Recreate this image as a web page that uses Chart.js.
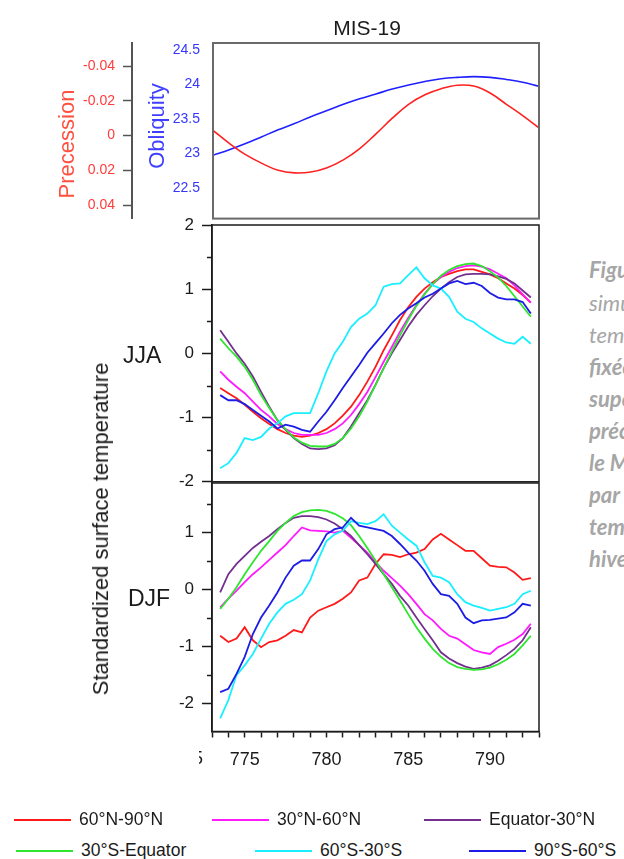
<!DOCTYPE html>
<html>
<head>
<meta charset="utf-8">
<script src="https://cdn.jsdelivr.net/npm/chart.js@4.4.1/dist/chart.umd.min.js"></script>
<style>
body{margin:0;background:#fff;width:624px;height:859px;overflow:hidden;position:relative;font-family:"Liberation Sans",Arial,sans-serif;color:#1b1b1b;}
canvas{position:absolute;left:0;}
.t{position:absolute;white-space:nowrap;line-height:1;}
.c{transform:translate(-50%,-50%);}
.r{transform:translate(-50%,-50%) rotate(-90deg);}
.cap{position:absolute;left:589px;font-family:Lato,"Open Sans",sans-serif;font-style:italic;font-size:22px;color:#a6a6a6;white-space:nowrap;line-height:1;}
</style>
</head>
<body>
<canvas id="orbit" width="560" height="240" style="top:0"></canvas>
<canvas id="jja" width="560" height="300" style="top:200px"></canvas>
<canvas id="djf" width="560" height="330" style="top:460px"></canvas>

<div class="t c" style="left:367px;top:27px;font-size:21px;">MIS-19</div>
<div class="t r" style="left:67px;top:144px;font-size:22px;color:#ff4f3f;">Precession</div>
<div class="t r" style="left:157px;top:126px;font-size:22px;color:#3f3fff;">Obliquity</div>
<div class="t r" style="left:101px;top:529px;font-size:22px;">Standardized surface temperature</div>
<div class="t" style="left:123px;top:355px;font-size:23px;transform:translateY(-50%);">JJA</div>
<div class="t" style="left:128px;top:598px;font-size:23px;transform:translateY(-50%);">DJF</div>
<div style="position:absolute;left:199px;top:748px;width:4px;height:20px;overflow:hidden;"><span style="position:absolute;right:0;top:0;font-size:18px;line-height:20px;">5</span></div>
<div id="legend"></div>
<div id="caption"></div>

<script>
// x axis (ka)
const xMin = 773;
const xMax = 793;
const xTickVals = [773, 774, 775, 776, 777, 778, 779, 780, 781, 782, 783, 784, 785, 786, 787, 788, 789, 790, 791, 792, 793];
const xLabelVals = [775, 780, 785, 790];

// orbital parameters
const orbitKyr = [773, 774, 775, 776, 777, 778, 779, 780, 781, 782, 783, 784, 785, 786, 787, 788, 789, 790, 791, 792, 793];
const precession = [-0.003, 0.0045, 0.011, 0.016, 0.020, 0.0215, 0.021, 0.0185, 0.014, 0.0075, -0.001, -0.010, -0.018, -0.0235, -0.027, -0.029, -0.0285, -0.0245, -0.018, -0.0115, -0.0045];
const obliquity = [22.97, 23.05, 23.14, 23.24, 23.34, 23.43, 23.53, 23.62, 23.71, 23.79, 23.86, 23.93, 23.99, 24.04, 24.08, 24.10, 24.11, 24.10, 24.07, 24.03, 23.97];
const precTicks = [-0.04, -0.02, 0, 0.02, 0.04];
const oblTicks = [22.5, 23, 23.5, 24, 24.5];

// standardized temperatures
const kyr = [773.5, 774, 774.5, 775, 775.5, 776, 776.5, 777, 777.5, 778, 778.5, 779, 779.5, 780, 780.5, 781, 781.5, 782, 782.5, 783, 783.5, 784, 784.5, 785, 785.5, 786, 786.5, 787, 787.5, 788, 788.5, 789, 789.5, 790, 790.5, 791, 791.5, 792, 792.5];

const seriesNames = ['60°N-90°N', '30°N-60°N', 'Equator-30°N', '30°S-Equator', '60°S-30°S', '90°S-60°S'];
const seriesColors = ['#ff1a1a', '#ff1aff', '#74308f', '#2ee62e', '#1aefff', '#1c1ce6'];

const jja60N90N = [-0.54, -0.62, -0.70, -0.80, -0.91, -1.01, -1.10, -1.18, -1.24, -1.28, -1.30, -1.28, -1.24, -1.18, -1.09, -0.97, -0.83, -0.65, -0.44, -0.21, 0.05, 0.28, 0.52, 0.72, 0.88, 1.01, 1.11, 1.19, 1.24, 1.28, 1.31, 1.31, 1.27, 1.23, 1.17, 1.09, 1.01, 0.91, 0.79];
const jja30N60N = [-0.28, -0.41, -0.52, -0.62, -0.75, -0.88, -0.98, -1.10, -1.18, -1.24, -1.27, -1.27, -1.27, -1.24, -1.18, -1.09, -0.96, -0.79, -0.60, -0.37, -0.13, 0.10, 0.34, 0.55, 0.75, 0.93, 1.08, 1.19, 1.27, 1.33, 1.36, 1.37, 1.35, 1.31, 1.24, 1.17, 1.06, 0.92, 0.79];
const jjaEq30N = [0.36, 0.18, 0.00, -0.16, -0.36, -0.60, -0.83, -1.04, -1.19, -1.32, -1.41, -1.48, -1.49, -1.48, -1.43, -1.32, -1.14, -0.93, -0.73, -0.49, -0.23, 0.00, 0.21, 0.42, 0.60, 0.75, 0.89, 1.01, 1.11, 1.19, 1.23, 1.24, 1.24, 1.23, 1.20, 1.16, 1.09, 0.98, 0.87];
const jja30SEq = [0.23, 0.08, -0.05, -0.21, -0.41, -0.65, -0.85, -1.04, -1.18, -1.31, -1.39, -1.44, -1.45, -1.45, -1.41, -1.32, -1.17, -0.98, -0.75, -0.49, -0.23, 0.03, 0.28, 0.52, 0.74, 0.92, 1.08, 1.21, 1.30, 1.36, 1.39, 1.40, 1.36, 1.28, 1.18, 1.05, 0.89, 0.73, 0.57];
const jja60S30S = [-1.79, -1.71, -1.55, -1.32, -1.35, -1.30, -1.17, -1.09, -0.98, -0.93, -0.93, -0.93, -0.62, -0.28, 0.00, 0.18, 0.41, 0.54, 0.62, 0.75, 1.04, 1.08, 1.09, 1.22, 1.34, 1.17, 1.06, 1.01, 0.88, 0.65, 0.54, 0.49, 0.39, 0.31, 0.23, 0.17, 0.15, 0.26, 0.15];
const jja90S60S = [-0.65, -0.73, -0.73, -0.79, -0.88, -0.97, -1.06, -1.17, -1.11, -1.14, -1.19, -1.22, -1.06, -0.91, -0.73, -0.54, -0.36, -0.18, 0.01, 0.16, 0.31, 0.47, 0.60, 0.70, 0.78, 0.87, 0.93, 1.01, 1.09, 1.13, 1.08, 1.10, 1.05, 0.94, 0.87, 0.84, 0.84, 0.80, 0.62];

const djf60N90N = [-0.82, -0.93, -0.87, -0.67, -0.90, -1.02, -0.93, -0.90, -0.82, -0.72, -0.76, -0.50, -0.38, -0.32, -0.26, -0.17, -0.06, 0.15, 0.20, 0.44, 0.61, 0.60, 0.56, 0.61, 0.64, 0.70, 0.87, 0.97, 0.87, 0.77, 0.67, 0.67, 0.54, 0.41, 0.39, 0.38, 0.29, 0.16, 0.19];
const djf30N60N = [-0.32, -0.17, -0.03, 0.12, 0.26, 0.38, 0.51, 0.64, 0.77, 0.93, 1.08, 1.03, 1.02, 1.01, 0.99, 1.02, 0.90, 0.77, 0.64, 0.47, 0.32, 0.19, 0.06, -0.09, -0.26, -0.44, -0.55, -0.70, -0.82, -0.87, -0.97, -1.07, -1.11, -1.14, -1.02, -0.96, -0.89, -0.79, -0.61];
const djfEq30N = [-0.06, 0.26, 0.44, 0.58, 0.72, 0.83, 0.93, 1.05, 1.16, 1.25, 1.28, 1.28, 1.26, 1.22, 1.15, 1.05, 0.93, 0.77, 0.61, 0.44, 0.26, 0.09, -0.12, -0.29, -0.50, -0.70, -0.90, -1.11, -1.22, -1.30, -1.36, -1.40, -1.38, -1.34, -1.26, -1.16, -1.05, -0.90, -0.67];
const djf30SEq = [-0.35, -0.17, 0.03, 0.26, 0.47, 0.67, 0.84, 1.02, 1.16, 1.28, 1.35, 1.38, 1.39, 1.37, 1.32, 1.24, 1.12, 0.93, 0.72, 0.50, 0.26, 0.03, -0.20, -0.44, -0.67, -0.87, -1.05, -1.19, -1.30, -1.37, -1.40, -1.42, -1.41, -1.38, -1.32, -1.24, -1.14, -0.99, -0.82];
const djf60S30S = [-2.27, -1.95, -1.51, -1.34, -1.14, -0.87, -0.61, -0.41, -0.26, -0.19, -0.09, 0.15, 0.52, 0.84, 0.96, 1.02, 1.19, 1.16, 1.14, 1.19, 1.31, 1.11, 0.99, 0.87, 0.76, 0.47, 0.23, 0.20, 0.12, -0.09, -0.23, -0.29, -0.33, -0.38, -0.35, -0.32, -0.26, -0.09, -0.03];
const djf90S60S = [-1.81, -1.75, -1.49, -1.19, -0.79, -0.50, -0.29, -0.06, 0.20, 0.41, 0.50, 0.50, 0.70, 0.96, 1.05, 1.08, 1.25, 1.11, 1.08, 1.05, 1.02, 0.93, 0.79, 0.64, 0.50, 0.32, 0.09, -0.09, -0.12, -0.26, -0.50, -0.60, -0.55, -0.54, -0.52, -0.50, -0.41, -0.26, -0.29];

const jjaSeries = [jja60N90N, jja30N60N, jjaEq30N, jja30SEq, jja60S30S, jja90S60S];
const djfSeries = [djf60N90N, djf30N60N, djfEq30N, djf30SEq, djf60S30S, djf90S60S];
const tempTicks = [-2, -1, 0, 1, 2];
const tempMinor = [-1.5, -0.5, 0.5, 1.5];

// layout of legend entries and caption lines (screen positions)
const legendPos = [[14, 820], [212, 820], [424, 820], [16, 851], [255, 851], [469, 851]];
const captionLines = [
    ['Figure 3 :', true], ['simulations', false], ['température', false], ['fixées', true], ['superficielles', true],
    ['précession', true], ['le MIS-19', true], ['par', true], ['température', true], ['hiver', true]
];
const captionTop = [270, 303, 335, 367, 399, 431, 463, 495, 527, 559];

const FONT = 'Liberation Sans';
const INK = '#1b1b1b';

const framePlugin = {
    id: 'frame',
    afterDatasetsDraw(chart, args, opts) {
        const a = chart.chartArea;
        const ctx = chart.ctx;
        ctx.save();
        ctx.strokeStyle = opts.color;
        ctx.lineWidth = opts.width;
        ctx.strokeRect(a.left, a.top, a.right - a.left, a.bottom - a.top);
        ctx.restore();
    }
};

const minorTicksPlugin = {
    id: 'minorTicks',
    afterDraw(chart, args, opts) {
        if (!opts.values) return;
        const s = chart.scales.y;
        const ctx = chart.ctx;
        ctx.save();
        ctx.strokeStyle = INK;
        ctx.lineWidth = 1.5;
        opts.values.forEach(function(v) {
            const py = Math.round(s.getPixelForValue(v)) + 0.5;
            ctx.beginPath();
            ctx.moveTo(s.right - opts.length, py);
            ctx.lineTo(s.right, py);
            ctx.stroke();
        });
        ctx.restore();
    }
};

function pairs(xs, ys) {
    return ys.map(function(y, i) { return {x: xs[i], y: y}; });
}

function tempDatasets(list) {
    return list.map(function(values, i) {
        return {
            label: seriesNames[i],
            data: pairs(kyr, values),
            borderColor: seriesColors[i],
            borderWidth: 1.8,
            pointRadius: 0,
            tension: 0,
            order: 6 - i
        };
    });
}

function hiddenX() {
    return {type: 'linear', min: xMin, max: xMax, display: false};
}

function tempY(min, max, ticks) {
    return {
        type: 'linear', position: 'left', min: min, max: max,
        afterFit: function(s) { s.width = 212; },
        afterBuildTicks: function(s) { s.ticks = ticks.map(function(v) { return {value: v}; }); },
        ticks: {font: {family: FONT, size: 17}, color: INK, padding: 8, callback: function(v) { return String(v); }},
        grid: {drawOnChartArea: false, tickLength: 10, tickColor: INK, tickWidth: 1.5},
        border: {display: true, color: INK, width: 1.5}
    };
}

const common = {
    responsive: false,
    animation: false,
    events: [],
    plugins: {legend: {display: false}, tooltip: {enabled: false}}
};

new Chart(document.getElementById('orbit'), {
    type: 'line',
    data: {
        datasets: [
            {label: 'Precession', data: pairs(orbitKyr, precession), yAxisID: 'prec', borderColor: '#ff2020', borderWidth: 1.6, pointRadius: 0, tension: 0.4},
            {label: 'Obliquity', data: pairs(orbitKyr, obliquity), yAxisID: 'obl', borderColor: '#2020ff', borderWidth: 1.6, pointRadius: 0, tension: 0.4}
        ]
    },
    options: Object.assign({}, common, {
        layout: {padding: {top: 43, bottom: 15, right: 21, left: 0}},
        plugins: Object.assign({}, common.plugins, {frame: {color: '#6a6a6a', width: 2}}),
        scales: {
            x: hiddenX(),
            prec: {
                type: 'linear', position: 'left', weight: 1, reverse: true, min: -0.0533, max: 0.0478,
                afterFit: function(s) { s.width = 132; },
                afterBuildTicks: function(s) { s.ticks = precTicks.map(function(v) { return {value: v}; }); },
                ticks: {font: {family: FONT, size: 14}, color: '#ff3b3b', padding: 8, callback: function(v) { return String(v); }},
                grid: {drawOnChartArea: false, tickLength: 9, tickColor: '#555', tickWidth: 1.5},
                border: {display: true, color: '#555', width: 2}
            },
            obl: {
                type: 'linear', position: 'left', weight: 0, min: 22.053, max: 24.598,
                afterFit: function(s) { s.width = 81; },
                afterBuildTicks: function(s) { s.ticks = oblTicks.map(function(v) { return {value: v}; }); },
                ticks: {font: {family: FONT, size: 14}, color: '#3535ff', padding: 13, callback: function(v) { return String(v); }},
                grid: {display: false, drawTicks: false},
                border: {display: false}
            }
        }
    }),
    plugins: [framePlugin]
});

new Chart(document.getElementById('jja'), {
    type: 'line',
    data: {datasets: tempDatasets(jjaSeries)},
    options: Object.assign({}, common, {
        layout: {padding: {top: 25, bottom: 17.5, right: 21, left: 0}},
        plugins: Object.assign({}, common.plugins, {frame: {color: INK, width: 1.5}, minorTicks: {values: tempMinor, length: 5}}),
        scales: {x: hiddenX(), y: tempY(-2, 2, tempTicks)}
    }),
    plugins: [framePlugin, minorTicksPlugin]
});

new Chart(document.getElementById('djf'), {
    type: 'line',
    data: {datasets: tempDatasets(djfSeries)},
    options: Object.assign({}, common, {
        layout: {padding: {top: 23, bottom: 18.5, right: 21, left: 0}},
        plugins: Object.assign({}, common.plugins, {frame: {color: INK, width: 1.5}, minorTicks: {values: tempMinor, length: 5}}),
        scales: {
            x: {
                type: 'linear', min: xMin, max: xMax,
                afterFit: function(s) { s.height = 40; },
                afterBuildTicks: function(s) { s.ticks = xTickVals.map(function(v) { return {value: v}; }); },
                ticks: {font: {family: FONT, size: 18}, color: INK, padding: 12, autoSkip: false, maxRotation: 0,
                    callback: function(v) { return xLabelVals.indexOf(v) >= 0 ? String(v) : ''; }},
                grid: {drawOnChartArea: false, tickLength: 6, tickColor: INK, tickWidth: 1.5},
                border: {display: true, color: INK, width: 1.5}
            },
            y: tempY(-2.5, 1.86, [-2, -1, 0, 1])
        }
    }),
    plugins: [framePlugin, minorTicksPlugin]
});

// legend built from the series names and colours
let legend = document.getElementById('legend');
seriesNames.forEach(function(name, i) {
    let p = legendPos[i];
    let line = document.createElement('div');
    line.style.cssText = 'position:absolute;left:' + p[0] + 'px;top:' + (p[1] - 1) + 'px;width:57px;height:2px;background:' + seriesColors[i] + ';';
    legend.append(line);
    let txt = document.createElement('div');
    txt.className = 't';
    txt.style.cssText = 'left:' + (p[0] + 65) + 'px;top:' + p[1] + 'px;font-size:17.5px;transform:translateY(-50%);';
    txt.textContent = name;
    legend.append(txt);
});

// figure caption, cut by the page edge
let caption = document.getElementById('caption');
captionLines.forEach(function(item, i) {
    let d = document.createElement('div');
    d.className = 'cap';
    d.style.top = (captionTop[i] - 11) + 'px';
    d.style.fontWeight = item[1] ? '700' : '400';
    d.textContent = item[0];
    caption.append(d);
});
</script>
</body>
</html>
